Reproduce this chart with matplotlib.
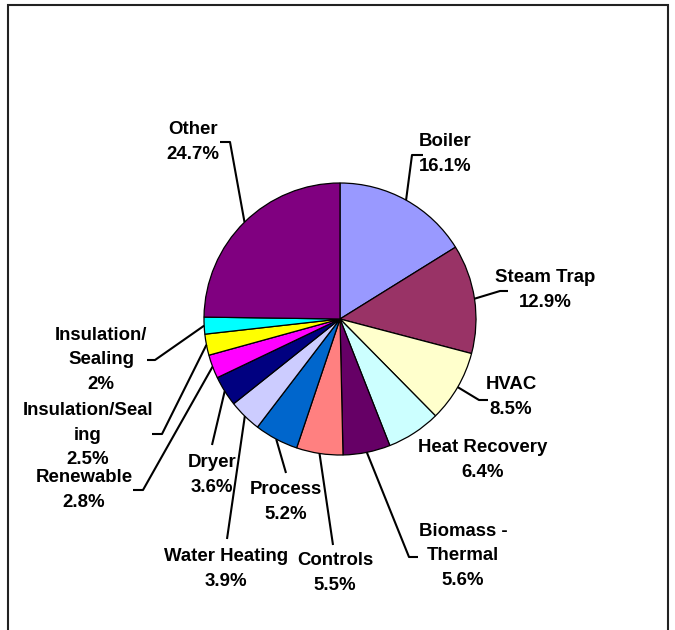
import matplotlib.pyplot as plt
import numpy as np
from matplotlib.patches import Rectangle

plt.rcParams['font.family'] = ['Liberation Sans', 'DejaVu Sans']

# share of projects by measure type, clockwise from 12 o'clock
categories = ['Boiler', 'Steam Trap', 'HVAC', 'Heat Recovery', 'Biomass -\nThermal',
              'Controls', 'Process', 'Water Heating', 'Dryer', 'Renewable',
              'Insulation/Seal\ning', 'Insulation/\nSealing', 'Other']
shares = [16.1, 12.9, 8.5, 6.4, 5.6, 5.5, 5.2, 3.9, 3.6, 2.8, 2.5, 2.0, 24.7]
colors = ['#9999FF', '#993366', '#FFFFCC', '#CCFFFF', '#660066', '#FF8080',
          '#0066CC', '#CCCCFF', '#000080', '#FF00FF', '#FFFF00', '#00FFFF', '#800080']

W, H = 675, 630
# label centre, elbow of the leader line, end of the leader line (pixels, y down)
label_pos = [(445, 154), (545, 290), (511, 397), (483, 460), (463, 556),
             (335, 573), (286, 502), (226, 569), (212, 475), (84, 490),
             (88, 435), (101, 360), (193, 142)]
elbows = [(412, 155), (500, 291), (479, 400), None, (409, 557),
          (333, 545), (286, 473), (227, 539), (212, 445), (143, 490),
          (162, 434), (155, 360), (230, 142)]
tails = [(423, 155), (508, 291), (488, 400), None, (418, 557),
         None, None, None, None, (133, 490),
         (152, 434), (147, 360), (220, 142)]

cx, cy, r = 340, 319, 136


def flip(p):
    return p[0], H - p[1]


fig = plt.figure(figsize=(W / 100, H / 100), dpi=100)
ax = fig.add_axes([0, 0, 1, 1])

wedges, _ = ax.pie(shares, colors=colors, startangle=90, counterclock=False,
                   center=flip((cx, cy)), radius=r,
                   wedgeprops=dict(edgecolor='black', linewidth=0.9))

ax.set_xlim(0, W)
ax.set_ylim(0, H)
ax.set_aspect('equal')
ax.axis('off')

# outer chart frame, bottom edge runs past the image
ax.add_patch(Rectangle((8, -20), 660, H - 5 + 20, fill=False,
                       edgecolor='#222222', linewidth=1.5))

for w, name, val, lp, el, tl in zip(wedges, categories, shares, label_pos, elbows, tails):
    ang = np.deg2rad((w.theta1 + w.theta2) / 2)
    x0 = w.center[0] + w.r * np.cos(ang)
    y0 = w.center[1] + w.r * np.sin(ang)
    if el is not None:
        pts = [(x0, y0), flip(el)]
        if tl is not None:
            pts.append(flip(tl))
        xs, ys = zip(*pts)
        ax.plot(xs, ys, color='black', linewidth=1.5, solid_capstyle='butt')
    ax.text(*flip(lp), f"{name}\n{val:g}%", ha='center', va='center',
            fontsize=13.4, fontweight='bold', linespacing=1.55)

fig.savefig('out.png', dpi=100)
